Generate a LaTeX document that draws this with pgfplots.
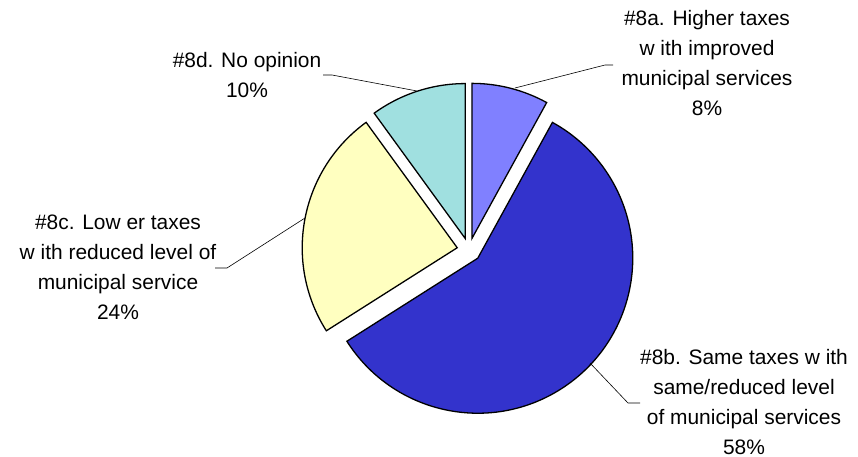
\documentclass[border=0pt]{standalone}
\usepackage{pgfplots}
\usepackage{pgfplotstable}
\pgfplotsset{compat=1.18}
\usepackage{fontspec}
\setmainfont{Liberation Sans}
\definecolor{sa}{HTML}{8080FF}
\definecolor{sb}{HTML}{3333CC}
\definecolor{sc}{HTML}{FFFFC0}
\definecolor{sd}{HTML}{A0E0E0}
\pgfplotstableread{
label value color
a 8 sa
b 58 sb
c 24 sc
d 10 sd
}\piedata
\begin{document}
\begin{tikzpicture}
\begin{axis}[
  width=858bp, height=457bp, scale only axis,
  xmin=0, xmax=858, ymin=0, ymax=457,
  hide axis, clip=false,
]
\path (axis cs:0,0) rectangle (axis cs:858,457);
\def\startang{90}
\pgfplotsforeachungrouped \i in {0,...,3}{%
  \pgfplotstablegetelem{\i}{value}\of\piedata \let\val\pgfplotsretval
  \pgfplotstablegetelem{\i}{color}\of\piedata \let\col\pgfplotsretval
  \pgfmathsetmacro\endang{\startang-3.6*\val}%
  \pgfmathsetmacro\midang{(\startang+\endang)/2}%
  \pgfmathsetmacro\ax{469+12*cos(\midang)}%
  \pgfmathsetmacro\ay{207+12*sin(\midang)}%
  \edef\temp{\noexpand\filldraw[fill=\col, draw=black, line width=1.3pt, line join=miter]
    (axis cs:\ax,\ay) -- ++(\endang:155bp) arc[start angle=\endang, end angle=\startang, radius=155bp] -- cycle;}%
  \temp
  \global\let\startang\endang
}
% leader lines
\draw[line width=0.6pt] (axis cs:323,382) -- (axis cs:332,382) -- (axis cs:417,366);
\draw[line width=0.6pt] (axis cs:515,369) -- (axis cs:605,392) -- (axis cs:613,392);
\draw[line width=0.6pt] (axis cs:215,189) -- (axis cs:227,189) -- (axis cs:305,239);
\draw[line width=0.6pt] (axis cs:590,94) -- (axis cs:628,54) -- (axis cs:640,54);
% labels
\tikzset{lbl/.style={align=center, inner sep=0pt, font=\fontsize{21}{30}\selectfont}}
\node[lbl] at (axis cs:247,382) {\#8d. No opinion\\10\%};
\node[lbl] at (axis cs:707,394) {\#8a. Higher taxes\\w ith improved\\municipal services\\8\%};
\node[lbl] at (axis cs:118,190) {\#8c. Low er taxes\\w ith reduced level of\\municipal service\\24\%};
\node[lbl] at (axis cs:744,55) {\#8b. Same taxes w ith\\same/reduced level\\of municipal services\\58\%};
\end{axis}
\end{tikzpicture}
\end{document}
